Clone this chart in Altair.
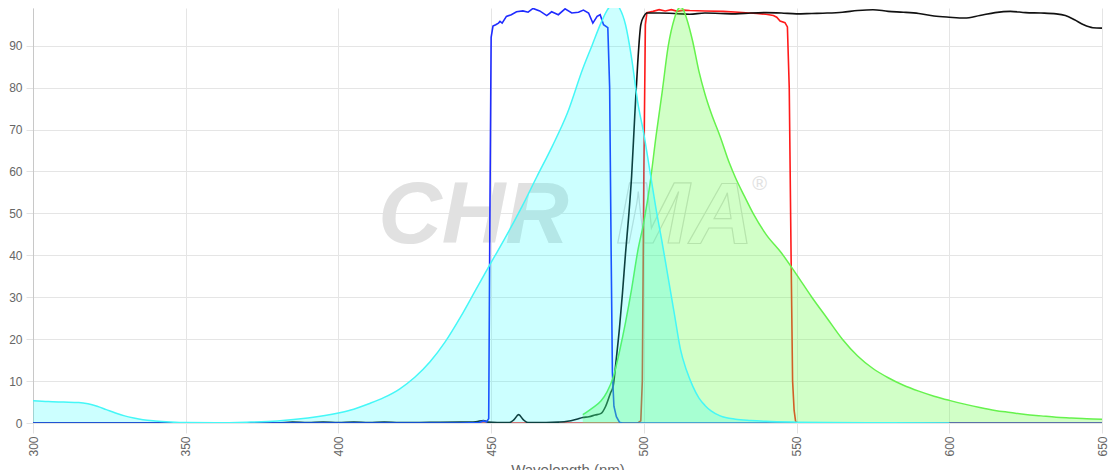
import altair as alt
import pandas as pd

# ---- Excitation spectrum (cyan area) ----
ex_wl = [300, 305, 310, 315, 318, 321, 324, 327, 330, 333, 336, 340, 345, 350, 360,
         370, 380, 390, 400, 405, 410, 415, 420, 425, 430, 435, 440, 445, 450, 455,
         460, 465, 470, 475, 480, 483, 486, 488, 490, 491, 492, 494, 496, 498, 500,
         502, 504, 506, 508, 510, 512, 514, 516, 518, 520, 522, 525, 530, 535, 540,
         550, 560, 580, 600]
ex_val = [5.3, 5.1, 5.0, 4.9, 4.6, 4.0, 3.2, 2.4, 1.7, 1.2, 0.8, 0.5, 0.25, 0.1, 0.05,
          0.2, 0.5, 1.2, 2.4, 3.3, 4.6, 6.1, 8.1, 10.9, 14.6, 19.4, 25.3, 31.8, 38.3, 44.7,
          51.5, 58.8, 66.0, 74.0, 84.5, 90.0, 95.5, 98.5, 100.0, 100.0, 99.0, 95.0, 87.0, 76.5, 69.0,
          60.0, 51.0, 43.0, 34.5, 26.0, 17.5, 12.5, 8.8, 6.0, 4.2, 2.9, 1.7, 0.9, 0.6, 0.4,
          0.2, 0.1, 0.05, 0.0]

# ---- Emission spectrum (green area) ----
em_wl = [480, 483, 486, 488, 490, 492, 494, 496, 498, 500, 502, 504, 506, 508, 510,
         511, 512, 513, 514, 516, 518, 520, 522, 525, 528, 530, 533, 536, 540, 545,
         550, 555, 560, 565, 570, 575, 580, 585, 590, 595, 600, 605, 610, 615, 620,
         625, 630, 635, 640, 645, 650]
em_val = [2.0, 3.5, 5.3, 7.5, 11.0, 17.0, 24.0, 32.0, 41.0, 48.0, 57.0, 68.5, 79.0, 90.0, 96.5,
          98.5, 99.2, 98.5, 96.5, 91.0, 84.0, 78.5, 74.0, 68.3, 62.0, 58.5, 54.0, 49.7, 45.0, 40.6,
          35.4, 30.0, 25.0, 20.0, 16.0, 13.0, 10.8, 9.0, 7.6, 6.4, 5.4, 4.5, 3.7, 3.0, 2.5,
          2.0, 1.7, 1.4, 1.2, 1.0, 0.9]

# ---- Excitation filter (blue) ----
bp_wl = [300, 440, 446, 447.5, 448.5, 449.2, 449.6, 450.0, 450.6, 451.5,
         452.4, 452.9, 453.6, 455.0, 456.6, 458.3, 460.4, 462.1, 463.7, 465.9,
         468.2, 469.8, 472.0, 474.2, 476.4, 478.6, 480.2, 481.9, 483.3, 484.7,
         485.7, 486.8, 488.2, 488.8, 489.3, 489.7, 490.2, 491.0, 492.0, 493.0, 650]
bp_val = [0, 0, 0.1, 0.5, 0.3, 1.0, 50, 92, 94.7, 95.0,
          95.4, 95.8, 95.4, 97.0, 97.4, 98.1, 98.3, 98.0, 98.9, 98.3,
          97.2, 98.1, 97.4, 98.8, 97.8, 98.0, 98.5, 97.8, 95.4, 97.0,
          97.4, 95.0, 94.3, 80, 40, 12, 4, 1.5, 0.2, 0, 0]

# ---- Emission filter (red) ----
rd_wl = [300, 498.0, 499.0, 499.5, 500.0, 500.5, 501.0, 503.0, 505.0, 507.0,
         509.0, 511.0, 513.0, 515.0, 520.0, 526.0, 531.0, 537.0, 540.0, 542.4,
         543.5, 544.6, 546.2, 547.0, 547.6, 548.2, 548.7, 549.2, 549.7, 550.5, 650]
rd_val = [0, 0, 0.5, 10, 60, 95, 97.9, 98.2, 98.6, 98.3,
          98.6, 98.2, 98.5, 98.4, 98.3, 98.2, 98.0, 97.7, 97.5, 97.2,
          96.8, 95.9, 95.5, 94.5, 80, 40, 10, 3, 0.3, 0, 0]

# ---- Dichroic (black) ----
dc_wl = [300, 380, 385, 390, 395, 400, 405, 410, 415, 420, 430, 440, 445, 447.5, 449,
         452, 456, 457.5, 459, 460.5, 462, 468, 472, 475, 478, 480, 482, 484, 486, 487.5,
         489, 490, 491, 492, 493, 494, 495, 496, 497, 498, 499, 500, 501, 505, 510,
         515, 520, 525, 530, 535, 540, 545, 550, 555, 560, 565, 570, 575, 580, 585,
         590, 595, 600, 605, 610, 615, 620, 625, 630, 635, 638, 641, 644, 647, 650]
dc_val = [0, 0, 0.2, 0.1, 0.25, 0.1, 0.2, 0.1, 0.2, 0.1, 0.15, 0.2, 0.3, 0.6, 0.2,
          0.1, 0.1, 0.8, 2.0, 0.8, 0.1, 0.1, 0.2, 0.4, 0.9, 1.3, 1.5, 1.9, 2.3, 4.0,
          7.0, 9.0, 15.5, 22.5, 31.0, 40.5, 49.0, 59.0, 73.0, 86.0, 95.0, 97.0, 97.8, 97.8, 97.7,
          97.5, 97.8, 97.7, 97.6, 97.8, 97.9, 97.8, 97.6, 97.7, 97.8, 98.0, 98.4, 98.6, 98.2, 98.0,
          97.7, 97.1, 96.8, 96.6, 97.2, 97.9, 98.2, 97.9, 97.8, 97.6, 97.2, 96.2, 95.0, 94.3, 94.2]

# ---- Watermark ----
wm_text = ["CHR", "MA", "®"]
wm_wl = [413.0, 491.0, 535.5]
wm_val = [43.0, 43.0, 55.5]

x_ticks = [300, 350, 400, 450, 500, 550, 600, 650]
y_ticks = [0, 10, 20, 30, 40, 50, 60, 70, 80, 90]

FONT = "Liberation Sans"

x_scale = alt.Scale(domain=[300, 650], nice=False, zero=False)
y_scale = alt.Scale(domain=[0, 99], nice=False)

x_axis = alt.Axis(values=x_ticks, labelAngle=270, labelFontSize=12, labelColor="#666666",
                  labelFont=FONT, tickColor="#e2e2e2", tickSize=10, labelPadding=3,
                  gridColor="#e5e5e5", domain=False, title="Wavelength (nm)",
                  titleFontSize=15, titleColor="#666666", titleFont=FONT,
                  titleFontWeight="normal", titlePadding=6, labelFlush=False,
                  labelOverlap=False, format="d")
y_axis = alt.Axis(values=y_ticks, labelFontSize=12, labelColor="#666666", labelFont=FONT,
                  tickSize=7, tickColor="#e2e2e2", labelPadding=4, gridColor="#e5e5e5",
                  domainColor="#c8c8c8", title=None, labelFlush=False, format="d")


def enc(chart):
    return chart.encode(
        x=alt.X("wl:Q", scale=x_scale, axis=x_axis),
        y=alt.Y("v:Q", scale=y_scale, axis=y_axis),
    )


ex_df = pd.DataFrame({"wl": ex_wl, "v": ex_val})
em_df = pd.DataFrame({"wl": em_wl, "v": em_val})
bp_df = pd.DataFrame({"wl": bp_wl, "v": bp_val})
rd_df = pd.DataFrame({"wl": rd_wl, "v": rd_val})
dc_df = pd.DataFrame({"wl": dc_wl, "v": dc_val})
wm_df = pd.DataFrame({"wl": wm_wl, "v": wm_val, "t": wm_text})

wm_chr = enc(alt.Chart(wm_df.iloc[[0]]).mark_text(
    font=FONT, fontSize=88, fontStyle="italic", fontWeight="bold",
    color="#e1e1e1", align="left", baseline="alphabetic")).encode(text="t:N")
wm_ma = enc(alt.Chart(wm_df.iloc[[1]]).mark_text(
    font=FONT, fontSize=88, fontStyle="italic", fontWeight="bold",
    fillOpacity=0, stroke="#d9d9d9", strokeWidth=1.2, align="left",
    baseline="alphabetic")).encode(text="t:N")
wm_r = enc(alt.Chart(wm_df.iloc[[2]]).mark_text(
    font=FONT, fontSize=20, color="#e1e1e1", align="left",
    baseline="alphabetic")).encode(text="t:N")

red = enc(alt.Chart(rd_df).mark_line(color="#ff1a1a", strokeWidth=1.6, interpolate="linear", clip=True))
black = enc(alt.Chart(dc_df).mark_line(color="#111111", strokeWidth=1.6, interpolate="monotone", clip=True))
blue = enc(alt.Chart(bp_df).mark_line(color="#1f2bff", strokeWidth=1.6, interpolate="linear", clip=True))
green_area = enc(alt.Chart(em_df).mark_area(color="#66ff44", fillOpacity=0.3, interpolate="monotone", clip=True))
green_line = enc(alt.Chart(em_df).mark_line(color="#66f24d", strokeWidth=1.5, interpolate="monotone", clip=True))
cyan_area = enc(alt.Chart(ex_df).mark_area(color="#00ffff", fillOpacity=0.2, interpolate="monotone", clip=True))
cyan_line = enc(alt.Chart(ex_df).mark_line(color="#45f7f7", strokeWidth=1.5, interpolate="monotone", clip=True))

chart = alt.layer(
    wm_chr, wm_ma, wm_r, red, black, blue, green_area, green_line, cyan_area, cyan_line
).properties(
    width=1069, height=415,
    autosize=alt.AutoSizeParams(type="none"),
    padding={"left": 25, "top": 0, "right": 10, "bottom": 47},
    background="white",
).configure_view(stroke=None)

chart.save("out.html", embed_options={"renderer": "svg", "actions": False})
